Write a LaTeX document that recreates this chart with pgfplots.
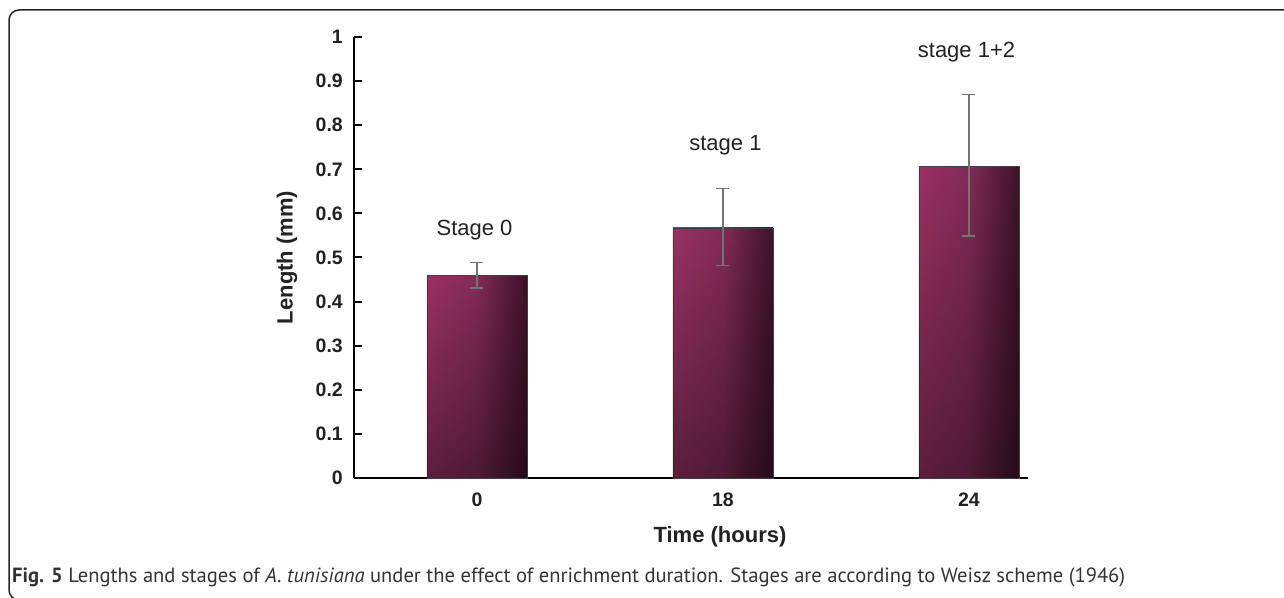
\documentclass[border=0pt]{standalone}
\usepackage{graphicx}
\usepackage{pgfplots}
\pgfplotsset{compat=1.18}
\usepackage{fontspec}
\setmainfont{Liberation Sans}
\newfontfamily\capfont{PT Sans}
\usetikzlibrary{fadings}
\definecolor{barL}{HTML}{9A3264}
\definecolor{barM}{HTML}{822B57}
\definecolor{barR}{HTML}{3E1329}
\definecolor{txt}{HTML}{222222}
\pgfplotsset{
  mybar/.style={ybar, bar shift=0pt, bar width=100pt, draw=black!75, line width=0.8pt,
    left color=barL, right color=barR, middle color=barM, forget plot},
  myshade/.style={ybar, bar shift=0pt, bar width=100pt, draw=none, fill=black,
    fill opacity=0.4, path fading=north, forget plot},
}
\begin{document}
\begin{tikzpicture}[x=1pt,y=1pt]
\useasboundingbox (0,0) rectangle (1284,597);
\begin{scope}
\clip (0,0) rectangle (1284,597);
\draw[line width=1.5pt, color=black!85, rounded corners=10pt] (1300,587) -- (9,587) -- (9,-3) -- (40,-3);
\end{scope}
\begin{axis}[
  at={(354pt,119pt)}, anchor=south west,
  scale only axis, width=674pt, height=441pt,
  xmin=-0.5, xmax=2.24, ymin=0, ymax=1,
  axis x line*=bottom, axis y line*=left,
  axis line style={line width=2.2pt, black},
  xtick={0,1,2}, xticklabels={0,18,24},
  x tick style={draw=none},
  ytick={0,0.1,0.2,0.3,0.4,0.5,0.6,0.7,0.8,0.9,1},
  yticklabels={0,0.1,0.2,0.3,0.4,0.5,0.6,0.7,0.8,0.9,1},
  tick align=inside, major tick length=8pt,
  y tick style={line width=2pt, black},
  ticklabel style={font=\fontsize{19.5}{21}\selectfont\bfseries, text=txt},
  yticklabel style={anchor=east, inner sep=0pt, xshift=-11pt},
  xticklabel style={anchor=center, inner sep=0pt, yshift=-22pt},
  xlabel={Time (hours)}, ylabel={Length (mm)},
  every axis x label/.style={at={(axis description cs:0.543,-0.1338)}, anchor=center,
    font=\fontsize{22}{24}\selectfont\bfseries, text=txt},
  every axis y label/.style={at={(axis description cs:-0.0994,0.5)}, anchor=center, rotate=90,
    font=\fontsize{22}{24}\selectfont\bfseries, text=txt},
  clip=false,
]
\addplot[mybar] coordinates {(0,0.46)};
\addplot[mybar] coordinates {(1,0.567)};
\addplot[mybar] coordinates {(2,0.707)};
\addplot[myshade] coordinates {(0,0.46)};
\addplot[myshade] coordinates {(1,0.567)};
\addplot[myshade] coordinates {(2,0.707)};
\addplot[draw=none, mark=none, forget plot,
  error bars/.cd, y dir=both, y explicit, error mark=-,
  error bar style={line width=1.3pt, draw=black!55, solid},
  error mark options={rotate=90, line width=1.3pt, mark size=6.5pt, draw=black!55, solid}]
  coordinates {(0,0.46) +- (0,0.029) (1,0.569) +- (0,0.087) (2,0.709) +- (0,0.160)};
\node[font=\fontsize{22}{24}\selectfont, text=txt] at (axis cs:-0.01,0.562) {Stage 0};
\node[font=\fontsize{22}{24}\selectfont, text=txt] at (axis cs:1.01,0.755) {stage 1};
\node[font=\fontsize{22}{24}\selectfont, text=txt] at (axis cs:1.99,0.966) {stage 1+2};
\end{axis}
\node[anchor=west, inner sep=0pt] at (12,20) {\resizebox{1113pt}{!}{\capfont\fontsize{18}{20}\selectfont\color{black!80}\textbf{Fig. 5} Lengths and stages of \textit{A. tunisiana} under the effect of enrichment duration. Stages are according to Weisz scheme (1946)}};
\end{tikzpicture}
\end{document}
